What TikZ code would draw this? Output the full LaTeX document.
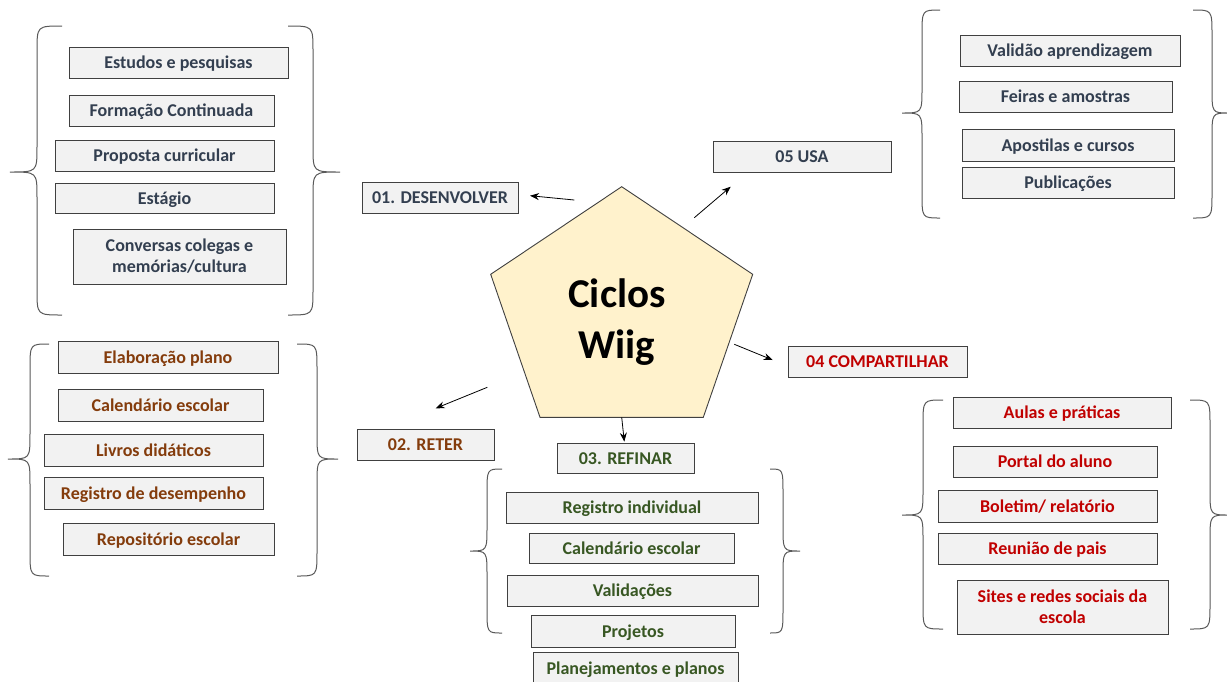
\documentclass[tikz,border=0pt]{standalone}
\usepackage{fontspec}
\setmainfont{Carlito}
\usetikzlibrary{arrows.meta}
\definecolor{dk}{HTML}{333F50}
\definecolor{brn}{HTML}{843C0C}
\definecolor{grn}{HTML}{385723}
\definecolor{rd}{HTML}{C00000}
\definecolor{bxfill}{HTML}{F2F2F2}
\definecolor{bxline}{HTML}{404040}
\definecolor{pent}{HTML}{FFF2CC}
\definecolor{brc}{HTML}{595959}
\tikzset{
  boxbase/.style={draw=bxline, fill=bxfill, line width=0.9pt, inner sep=0pt, align=center,
    font=\bfseries\fontsize{18}{21}\selectfont},
  boxst/.style={boxbase, text height=14pt, text depth=2pt},
  boxtwo/.style={boxbase},
  bracest/.style={draw=brc, line width=1pt},
  arr/.style={draw=black, line width=0.8pt, -{Stealth[length=9pt,width=7pt]}},
  pentst/.style={draw=bxline, fill=pent, line width=0.9pt},
}
\newcommand\bx[7]{%
  \pgfmathsetmacro\bxW{#4-#2}\pgfmathsetmacro\bxH{#5-#3}%
  \node[boxst, text=#6, minimum width=\bxW pt, minimum height=\bxH pt] (#1) at ({(#2+#4)/2},{(#3+#5)/2}) {#7};}
\newcommand\bxtwo[7]{%
  \pgfmathsetmacro\bxW{#4-#2}\pgfmathsetmacro\bxH{#5-#3}%
  \node[boxtwo, text=#6, minimum width=\bxW pt, minimum height=\bxH pt] (#1) at ({(#2+#4)/2},{(#3+#5)/2+1}) {#7};}
\newcommand\brc[6]{% xo, xb, xt, ytop, ymid, ybot
  \draw[bracest] (#1,#4) .. controls (#2,#4) .. (#2,#4+25) -- (#2,#5-25)
    .. controls (#2,#5) .. (#3,#5) .. controls (#2,#5) .. (#2,#5+25)
    -- (#2,#6-25) .. controls (#2,#6) .. (#1,#6);}
\begin{document}
\begin{tikzpicture}[x=1pt,y=-1pt]
\useasboundingbox[fill=white] (0,0) rectangle (1227,681);
% braces
\brc{62}{37}{10}{26}{172}{315}
\brc{288}{313}{340}{26}{172}{315}
\brc{49}{30}{8}{344}{459}{576}
\brc{297}{317}{338}{344}{459}{576}
\brc{940}{922}{902}{10}{113}{218}
\brc{1193}{1212}{1229}{10}{113}{218}
\brc{943}{923}{902}{400}{515}{629}
\brc{1190}{1210}{1229}{400}{515}{629}
\brc{502}{487}{470}{469}{551}{633}
\brc{770}{783}{800}{469}{551}{633}
% pentagon
\coordinate (p1) at (621.7,186.7);
\coordinate (p2) at (752.7,274.3);
\coordinate (p3) at (703.3,417.3);
\coordinate (p4) at (540,417.3);
\coordinate (p5) at (490.7,274.3);
\draw[pentst] (p1)--(p2)--(p3)--(p4)--(p5)--cycle;
\node[align=center, font=\bfseries\fontsize{41}{51}\selectfont, inner sep=0pt] (title) at (617,322) {Ciclos\\Wiig};
% dark boxes
\bx{e1}{69}{47}{288}{78}{dk}{Estudos e pesquisas}
\bx{e2}{69}{95}{274}{126}{dk}{Formação Continuada}
\bx{e3}{55}{140}{274}{171}{dk}{Proposta curricular}
\bx{e4}{55}{183}{274}{213}{dk}{Estágio}
\bxtwo{e5}{73}{228}{286}{283}{dk}{Conversas colegas e\\memórias/cultura}
\bx{d1}{362}{182}{518}{213}{dk}{01. DESENVOLVER}
\bx{u0}{713}{141}{891}{172}{dk}{05 USA}
\bx{u1}{960}{35}{1180}{66}{dk}{Validão aprendizagem}
\bx{u2}{959}{81}{1172}{112}{dk}{Feiras e amostras}
\bx{u3}{962}{129}{1174}{161}{dk}{Apostilas e cursos}
\bx{u4}{962}{167}{1174}{198}{dk}{Publicações}
% brown boxes
\bx{r0}{357}{429}{494}{460}{brn}{02. RETER}
\bx{r1}{58}{341}{278}{373}{brn}{Elaboração plano}
\bx{r2}{58}{389}{263}{421}{brn}{Calendário escolar}
\bx{r3}{44}{434}{263}{466}{brn}{Livros didáticos}
\bx{r4}{44}{477}{263}{509}{brn}{Registro de desempenho}
\bx{r5}{63}{523}{274}{555}{brn}{Repositório escolar}
% green boxes
\bx{f0}{557}{443}{694}{473}{grn}{03. REFINAR}
\bx{f1}{506}{492}{758}{523}{grn}{Registro individual}
\bx{f2}{529}{533}{734}{563}{grn}{Calendário escolar}
\bx{f3}{507}{575}{758}{606}{grn}{Validações}
\bx{f4}{531}{615}{735}{647}{grn}{Projetos}
\bx{f5}{533}{652}{738}{684}{grn}{Planejamentos e planos}
% red boxes
\bx{c0}{788}{346}{967}{377}{rd}{04 COMPARTILHAR}
\bx{s1}{953}{397}{1171}{428}{rd}{Aulas e práticas}
\bx{s2}{953}{446}{1157}{477}{rd}{Portal do aluno}
\bx{s3}{938}{490}{1157}{522}{rd}{Boletim/ relatório}
\bx{s4}{938}{533}{1157}{564}{rd}{Reunião de pais}
\bxtwo{s5}{957}{579}{1168}{633}{rd}{Sites e redes sociais da\\escola}
% arrows
\coordinate (a1s) at (574.3,200); \coordinate (a1e) at (530,195.7);
\coordinate (a2s) at (487.3,387.3); \coordinate (a2e) at (435.7,408.3);
\coordinate (a3s) at (621.7,417.3); \coordinate (a3e) at (624.3,441.7);
\coordinate (a4s) at (734.3,344.3); \coordinate (a4e) at (772.7,360);
\coordinate (a5s) at (694.3,217.7); \coordinate (a5e) at (730.7,186.7);
\draw[arr] (a1s) -- (a1e);
\draw[arr] (a2s) -- (a2e);
\draw[arr] (a3s) -- (a3e);
\draw[arr] (a4s) -- (a4e);
\draw[arr] (a5s) -- (a5e);
\end{tikzpicture}
\end{document}
